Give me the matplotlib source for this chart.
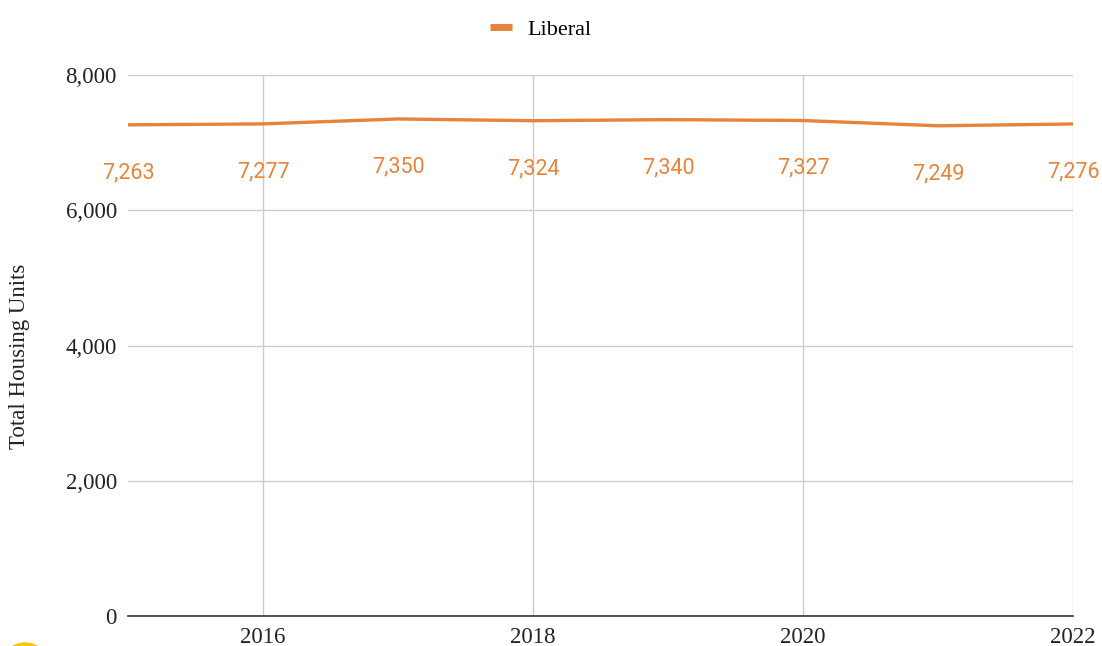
import matplotlib.pyplot as plt
from matplotlib.patches import Ellipse

years = [2015, 2016, 2017, 2018, 2019, 2020, 2021, 2022]
units = [7263, 7277, 7350, 7324, 7340, 7327, 7249, 7276]
y_ticks = [0, 2000, 4000, 6000, 8000]
x_ticks = [2016, 2018, 2020, 2022]
series_name = "Liberal"
line_color = "#e8833a"

fig = plt.figure(figsize=(11.02, 6.46), dpi=100)
ax = fig.add_axes([128 / 1102, 1 - 616 / 646, 945 / 1102, 541 / 646])

ax.plot(years, units, color=line_color, linewidth=2.4, label=series_name,
        solid_capstyle="butt", zorder=3)
for x, y in zip(years, units):
    ax.annotate(f"{y:,}", (x, y), xytext=(0, -34.5), textcoords="offset points",
                ha="center", va="center", color=line_color, fontsize=15.5,
                family="Roboto", annotation_clip=False)

ax.set_xlim(2015, 2022)
ax.set_ylim(0, 8000)
ax.set_yticks(y_ticks)
ax.set_yticklabels([f"{v:,}" for v in y_ticks])
ax.set_xticks(x_ticks)
ax.set_xticklabels([str(v) for v in x_ticks])
ax.grid(True, color="#cccccc", linewidth=1.0, zorder=0)
ax.set_axisbelow(True)
for side in ["left", "right", "top"]:
    ax.spines[side].set_visible(False)
ax.spines["bottom"].set_color("#333333")
ax.spines["bottom"].set_linewidth(1.2)
ax.tick_params(length=0, labelsize=16.5, pad=8)
for lab in ax.get_xticklabels() + ax.get_yticklabels():
    lab.set_family("Liberation Serif")
    lab.set_color("#222222")

ax.set_ylabel("Total Housing Units", family="Liberation Serif", fontsize=16.5,
              color="#222222")
ax.yaxis.set_label_coords(-0.104, 0.48)

leg = fig.legend(loc="center", bbox_to_anchor=(541 / 1102, 1 - 30 / 646),
                 frameon=False, prop={"family": "Liberation Serif", "size": 16},
                 handlelength=1.0, handletextpad=0.7)
for h in leg.get_lines():
    h.set_linewidth(5)

# yellow blob in the bottom-left corner of the screenshot
fig.patches.append(Ellipse((25 / 1102, 1 - 668 / 646), 50 / 1102, 50 / 646,
                           transform=fig.transFigure, color="#f5c518",
                           figure=fig))

fig.savefig("out.png", dpi=100)
